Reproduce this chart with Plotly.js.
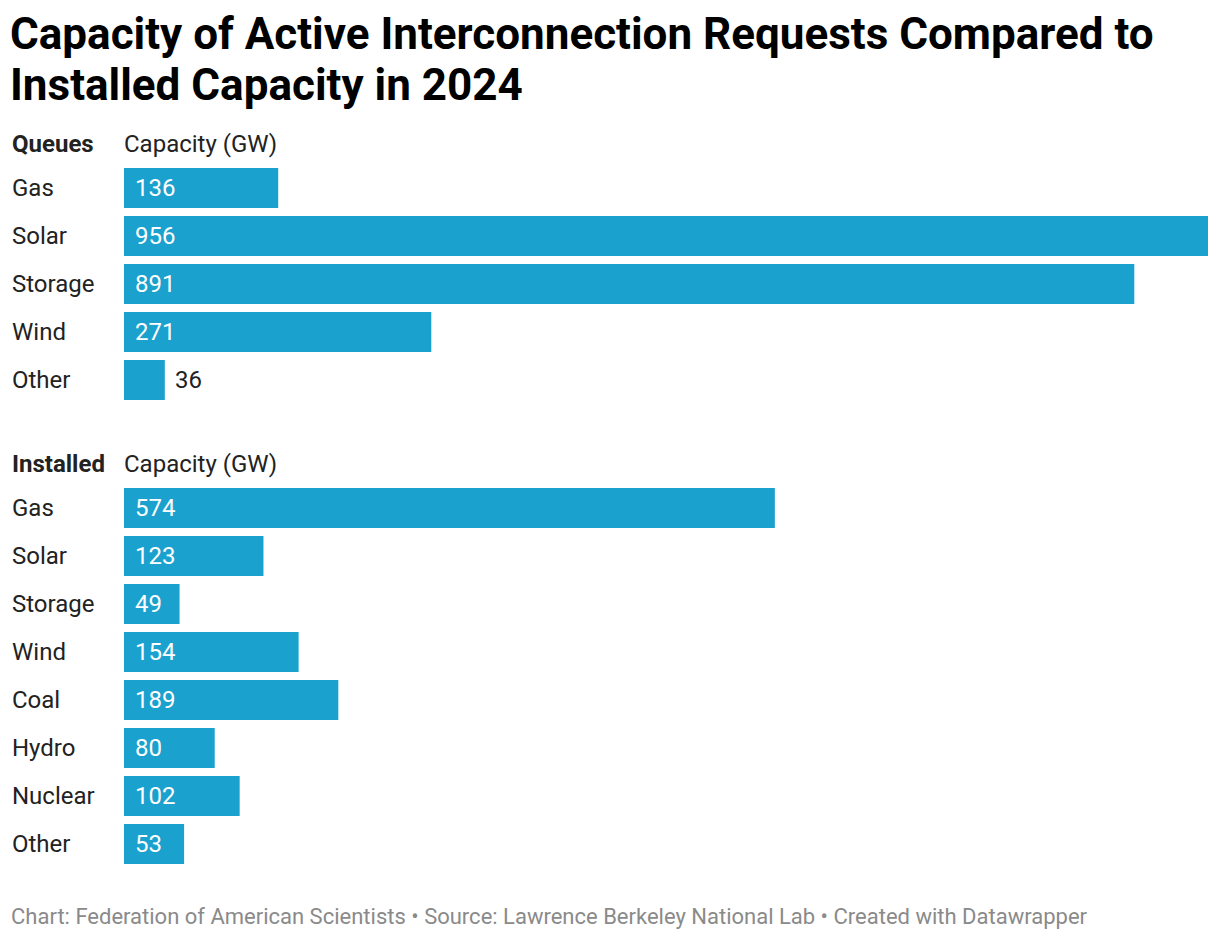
<!DOCTYPE html>
<html>
<head>
<meta charset="utf-8">
<script src="https://cdn.plot.ly/plotly-3.0.1.min.js"></script>
<style>html,body{margin:0;padding:0;background:#fff;}#chart{width:1220px;height:940px;}</style>
</head>
<body>
<div id="chart"></div>
<script>
// ---- data ----
const queueCategories = ["Gas", "Solar", "Storage", "Wind", "Other"];
const queueValues = [136, 956, 891, 271, 36];
const installedCategories = ["Gas", "Solar", "Storage", "Wind", "Coal", "Hydro", "Nuclear", "Other"];
const installedValues = [574, 123, 49, 154, 189, 80, 102, 53];
const groupTitles = ["Queues", "Installed"];
const columnTitle = "Capacity (GW)";
const titleLines = ["Capacity of Active Interconnection Requests Compared to", "Installed Capacity in 2024"];
const footerText = "Chart: Federation of American Scientists • Source: Lawrence Berkeley National Lab • Created with Datawrapper";

// ---- style ----
const W = 1220, H = 940;
const barColor = "#1aa1ce";
const textColor = "#222222";
const font = "Roboto, sans-serif";
const py = p => 1 - p / H;      // pixel y -> paper fraction
const px = p => p / W;

const xMax = Math.max(...queueValues, ...installedValues);

const traces = [
  {type: "bar", orientation: "h", x: queueValues, y: queueCategories.map((c,i)=>i),
   marker: {color: barColor}, xaxis: "x", yaxis: "y", hoverinfo: "skip", width: 0.833},
  {type: "bar", orientation: "h", x: installedValues, y: installedCategories.map((c,i)=>i),
   marker: {color: barColor}, xaxis: "x2", yaxis: "y2", hoverinfo: "skip", width: 0.833}
];

const annotations = [];
function addGroup(cats, vals, xref, yref) {
  cats.forEach((c, i) => {
    annotations.push({xref: "paper", yref: yref, x: px(12), y: i, text: c, showarrow: false, xshift: -2,
      xanchor: "left", yanchor: "middle", font: {family: font, size: 24, color: textColor}});
    const v = vals[i];
    const inside = v / xMax * 1084 > 50;
    annotations.push({xref: xref, yref: yref, x: inside ? 0 : v, y: i, text: String(v), showarrow: false,
      xanchor: "left", yanchor: "middle", xshift: inside ? 9 : 8,
      font: {family: font, size: 24, color: inside ? "#ffffff" : textColor}});
  });
}
addGroup(queueCategories, queueValues, "x", "y");
addGroup(installedCategories, installedValues, "x2", "y2");

// headers
[[groupTitles[0], 144], [groupTitles[1], 464]].forEach(([t, yp]) => {
  annotations.push({xref: "paper", yref: "paper", x: px(12), y: py(yp), text: "<b>" + t + "</b>", xshift: -2,
    showarrow: false, xanchor: "left", yanchor: "middle", font: {family: font, size: 24, color: textColor}});
  annotations.push({xref: "paper", yref: "paper", x: px(124), y: py(yp), text: columnTitle, xshift: -2,
    showarrow: false, xanchor: "left", yanchor: "middle", font: {family: font, size: 24, color: textColor}});
});
// title
[[titleLines[0], 34], [titleLines[1], 85]].forEach(([t, yp]) => {
  annotations.push({xref: "paper", yref: "paper", x: px(10), y: py(yp), text: "<b>" + t + "</b>", xshift: -2,
    showarrow: false, xanchor: "left", yanchor: "middle", font: {family: font, size: 44, color: "#000000"}});
});
// footer
annotations.push({xref: "paper", yref: "paper", x: px(11), y: py(916), text: footerText, showarrow: false, xshift: -2,
  xanchor: "left", yanchor: "middle", font: {family: font, size: 22, color: "#8a8a8a"}});

const axX = {range: [0, xMax], showgrid: false, zeroline: false, showticklabels: false, ticks: "", fixedrange: true};
const layout = {
  width: W, height: H,
  margin: {l: 0, r: 0, t: 0, b: 0},
  paper_bgcolor: "#ffffff", plot_bgcolor: "#ffffff",
  showlegend: false,
  xaxis: Object.assign({}, axX, {domain: [px(124), px(1208)], anchor: "y"}),
  xaxis2: Object.assign({}, axX, {domain: [px(124), px(1208)], anchor: "y2"}),
  yaxis: {domain: [py(404), py(164)], range: [queueCategories.length - 0.5, -0.5], showgrid: false, zeroline: false,
    showticklabels: false, ticks: "", fixedrange: true, anchor: "x"},
  yaxis2: {domain: [py(868), py(484)], range: [installedCategories.length - 0.5, -0.5], showgrid: false, zeroline: false,
    showticklabels: false, ticks: "", fixedrange: true, anchor: "x2"},
  annotations: annotations
};

Plotly.newPlot("chart", traces, layout, {displayModeBar: false, staticPlot: true});
</script>
</body>
</html>
